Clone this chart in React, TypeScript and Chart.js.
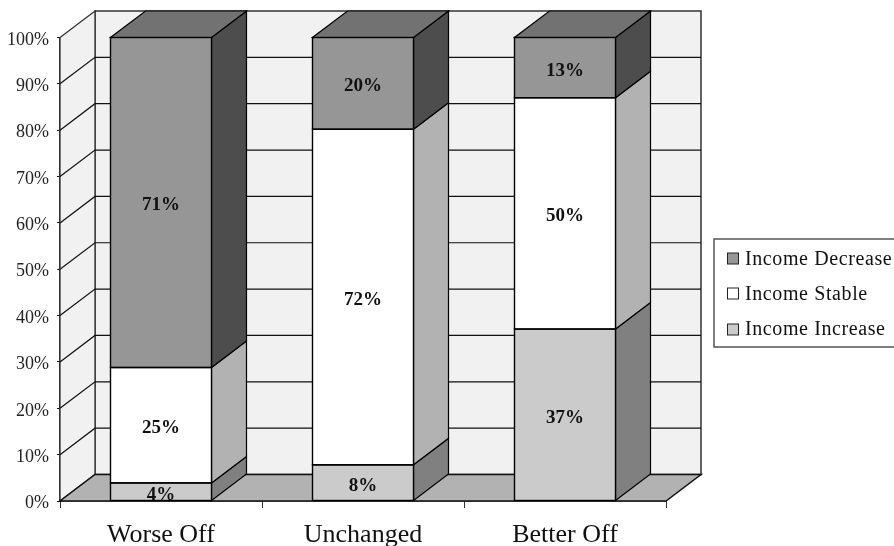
import React, { useEffect, useRef } from "react";
import { Chart, registerables } from "chart.js";

Chart.register(...registerables);

const categories = ["Worse Off", "Unchanged", "Better Off"];
const incomeIncrease = [3.9, 7.8, 37.1];
const incomeStable = [24.9, 72.4, 49.9];
const incomeDecrease = [71.2, 19.8, 13.0];
const valueLabels = [
  ["4%", "8%", "37%"],
  ["25%", "72%", "50%"],
  ["71%", "20%", "13%"],
];
const legendOrder = [2, 1, 0];
const SERIF = '"Liberation Serif", serif';

const DX = 35;
const DY = -26.5;
const faces = [
  { front: "#cbcbcb", side: "#808080", top: "#a0a0a0" },
  { front: "#ffffff", side: "#b2b2b2", top: "#d0d0d0" },
  { front: "#969696", side: "#4d4d4d", top: "#727272" },
];

function poly(ctx: CanvasRenderingContext2D, pts: number[][], fill: string | null, stroke = "#000", lw = 1.2) {
  ctx.beginPath();
  pts.forEach((p, i) => (i ? ctx.lineTo(p[0], p[1]) : ctx.moveTo(p[0], p[1])));
  ctx.closePath();
  if (fill) {
    ctx.fillStyle = fill;
    ctx.fill();
  }
  if (lw > 0) {
    ctx.strokeStyle = stroke;
    ctx.lineWidth = lw;
    ctx.lineJoin = "miter";
    ctx.stroke();
  }
}

const depthPlugin = {
  id: "depth3d",
  beforeDatasetsDraw(chart: any) {
    const ctx: CanvasRenderingContext2D = chart.ctx;
    const { left, right, top, bottom } = chart.chartArea;
    const y = chart.scales.y;
    ctx.save();
    // walls
    poly(ctx, [[left + DX, top + DY], [right + DX, top + DY], [right + DX, bottom + DY], [left + DX, bottom + DY]], "#f1f1f1", "#333", 1.5);
    poly(ctx, [[left, top], [left + DX, top + DY], [left + DX, bottom + DY], [left, bottom]], "#f1f1f1", "#333", 1.3);
    // grid on both walls
    for (let v = 10; v <= 90; v += 10) {
      const py = y.getPixelForValue(v);
      ctx.beginPath();
      ctx.moveTo(left, py);
      ctx.lineTo(left + DX, py + DY);
      ctx.lineTo(right + DX, py + DY);
      ctx.strokeStyle = "#111";
      ctx.lineWidth = 1.2;
      ctx.stroke();
    }
    // floor
    poly(ctx, [[left, bottom], [right, bottom], [right + DX, bottom + DY], [left + DX, bottom + DY]], "#b2b2b2", "#111", 1.5);
    // side and top faces of every stack segment
    chart.data.datasets.forEach((_: any, di: number) => {
      const meta = chart.getDatasetMeta(di);
      meta.data.forEach((bar: any) => {
        const half = bar.width / 2;
        const xl = bar.x - half;
        const xr = bar.x + half;
        const yT = bar.y;
        const yB = bar.base;
        poly(ctx, [[xr, yB], [xr, yT], [xr + DX, yT + DY], [xr + DX, yB + DY]], faces[di].side);
        if (di === chart.data.datasets.length - 1) {
          poly(ctx, [[xl, yT], [xr, yT], [xr + DX, yT + DY], [xl + DX, yT + DY]], faces[di].top);
        }
      });
    });
    ctx.restore();
  },
  afterDatasetsDraw(chart: any) {
    const ctx: CanvasRenderingContext2D = chart.ctx;
    ctx.save();
    // outline of the front faces, one line between neighbouring segments
    chart.data.datasets.forEach((_: any, di: number) => {
      chart.getDatasetMeta(di).data.forEach((bar: any) => {
        ctx.strokeStyle = "#000";
        ctx.lineWidth = 1.4;
        ctx.strokeRect(bar.x - bar.width / 2, bar.y, bar.width, bar.base - bar.y);
      });
    });
    ctx.font = `bold 19px ${SERIF}`;
    ctx.fillStyle = "#111";
    ctx.textAlign = "center";
    ctx.textBaseline = "middle";
    chart.data.datasets.forEach((_: any, di: number) => {
      chart.getDatasetMeta(di).data.forEach((bar: any, i: number) => {
        ctx.fillText(valueLabels[di][i], bar.x, (bar.y + bar.base) / 2 + 3);
      });
    });
    ctx.restore();
  },
  afterDraw(chart: any) {
    const ctx: CanvasRenderingContext2D = chart.ctx;
    ctx.save();
    ctx.fillStyle = "#fff";
    ctx.strokeStyle = "#555";
    ctx.lineWidth = 1.5;
    ctx.fillRect(714, 239, 190, 108);
    ctx.strokeRect(714, 239, 190, 108);
    const swatchY = [253, 288, 324];
    const baseY = [265, 300, 335];
    legendOrder.forEach((di, row) => {
      ctx.fillStyle = faces[di].front;
      ctx.fillRect(727.5, swatchY[row], 11, 11);
      ctx.strokeStyle = "#222";
      ctx.lineWidth = 1;
      ctx.strokeRect(727.5, swatchY[row], 11, 11);
      ctx.fillStyle = "#111";
      ctx.font = `20px ${SERIF}`;
      (ctx as any).letterSpacing = "0.6px";
      ctx.textAlign = "left";
      ctx.textBaseline = "alphabetic";
      ctx.fillText(chart.data.datasets[di].label, 745, baseY[row]);
      (ctx as any).letterSpacing = "0px";
    });
    ctx.restore();
  },
};

export default function App() {
  const ref = useRef<HTMLCanvasElement>(null);
  useEffect(() => {
    document.body.style.margin = "0";
    const names = ["Income Increase", "Income Stable", "Income Decrease"];
    const series = [incomeIncrease, incomeStable, incomeDecrease];
    const chart = new Chart(ref.current as HTMLCanvasElement, {
      type: "bar",
      data: {
        labels: categories,
        datasets: series.map((data, i) => ({
          label: names[i],
          data,
          backgroundColor: faces[i].front,
          borderWidth: 0,
          categoryPercentage: 1,
          barPercentage: 0.5,
          clip: false,
        })),
      },
      options: {
        responsive: false,
        animation: false,
        layout: { padding: { top: 37.5, right: 228, bottom: 0, left: 0 } },
        plugins: { legend: { display: false }, tooltip: { enabled: false } },
        scales: {
          x: {
            stacked: true,
            offset: true,
            afterFit: (s: any) => { s.height = 45; },
            grid: { offset: true, drawOnChartArea: false, drawTicks: true, tickLength: 7, tickColor: "#333", tickWidth: 1 },
            border: { color: "#000", width: 1.5 },
            ticks: { font: { family: SERIF, size: 26 }, color: "#111", padding: 12, maxRotation: 0 },
          },
          y: {
            stacked: true,
            min: 0,
            max: 100,
            afterFit: (s: any) => { s.width = 60; },
            grid: { drawOnChartArea: false, drawTicks: true, tickLength: 3, tickColor: "#111" },
            border: { color: "#333", width: 2 },
            ticks: {
              stepSize: 10,
              padding: 8,
              labelOffset: 2.5,
              font: { family: SERIF, size: 18 },
              color: "#222",
              callback: (v: any) => `${v}%`,
            },
          },
        },
      } as any,
      plugins: [depthPlugin],
    });
    return () => chart.destroy();
  }, []);
  return <canvas ref={ref} width={894} height={546} style={{ display: "block" }} />;
}
